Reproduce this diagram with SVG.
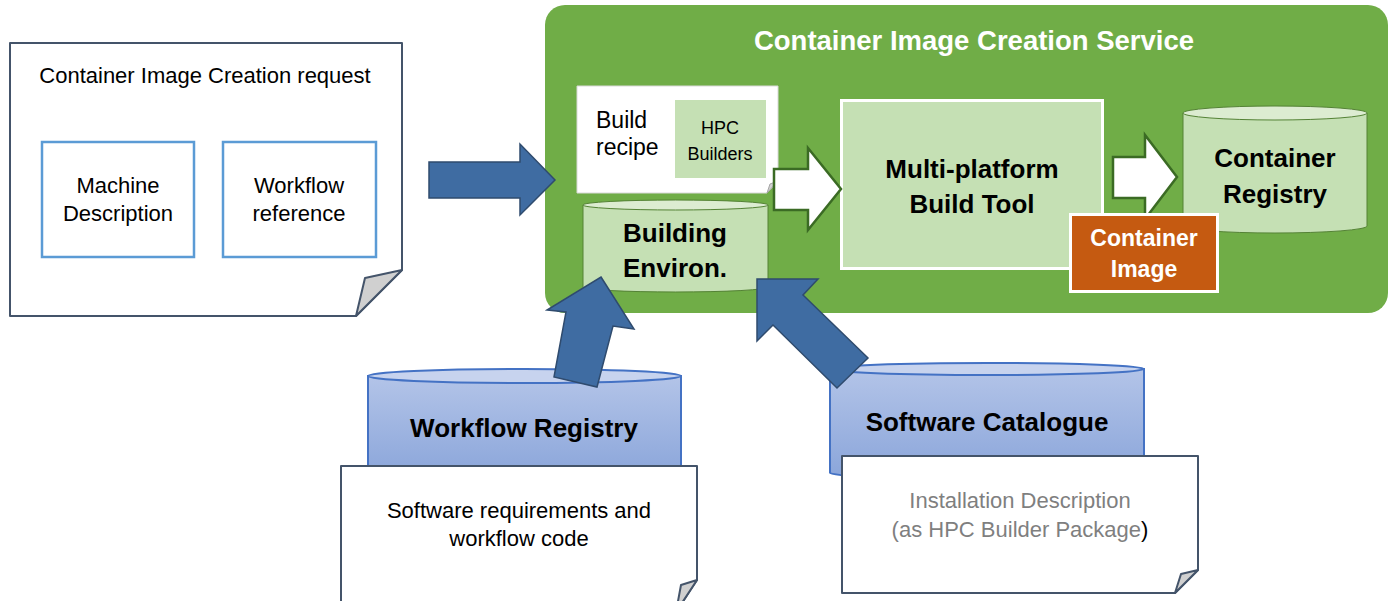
<svg xmlns="http://www.w3.org/2000/svg" width="1389" height="601" viewBox="0 0 1389 601">
<defs>
<linearGradient id="blueCyl" x1="0" y1="0" x2="0" y2="1">
<stop offset="0" stop-color="#b3c4e8"/>
<stop offset="1" stop-color="#8aa5da"/>
</linearGradient>
</defs>
<style>
.doc{fill:#fff;stroke:#44546a;stroke-width:2;stroke-linejoin:round}
.fold{fill:#d0d0d0;stroke:#44546a;stroke-width:2;stroke-linejoin:round}
.inbox{fill:#fff;stroke:#5b9bd5;stroke-width:2.5}
.t{font-family:"Liberation Sans",Arial,sans-serif;font-size:22px;fill:#000;text-anchor:middle}
.b{font-family:"Liberation Sans",Arial,sans-serif;font-weight:bold;font-size:26px;fill:#000;text-anchor:middle}
.gcyl{fill:#c5e0b4;stroke:#548235;stroke-width:1}
.gtop{fill:#dcecd1;stroke:#548235;stroke-width:1}
.bcyl{fill:url(#blueCyl);stroke:#4472c4;stroke-width:2}
.btop{fill:#c7d3ee;stroke:#4472c4;stroke-width:2}
.barrow{fill:#3f6ca2;stroke:#2f4b6e;stroke-width:1.5;stroke-linejoin:miter}
.warrow{fill:#fff;stroke:#3b6b24;stroke-width:2.5;stroke-linejoin:miter}
</style>

<g id="request">
<path class="doc" d="M10,43 H402 V270 L356,316 H10 Z"/>
<path class="fold" d="M402,270 L365,278 L356,316 Z"/>
<text class="t" x="205" y="83">Container Image Creation request</text>
<g id="machine">
<rect class="inbox" x="42" y="142" width="152" height="115"/>
<text class="t" x="118" y="193">Machine</text>
<text class="t" x="118" y="221">Description</text>
</g>
<g id="workflowref">
<rect class="inbox" x="223" y="142" width="153" height="115"/>
<text class="t" x="299" y="193">Workflow</text>
<text class="t" x="299" y="221">reference</text>
</g>
</g>

<g id="service">
<rect x="545" y="5" width="843" height="308" rx="20" ry="20" fill="#70ad47"/>
<text x="974" y="50" font-family="Liberation Sans, Arial, sans-serif" font-weight="bold" font-size="27.5" fill="#fff" text-anchor="middle">Container Image Creation Service</text>
</g>

<g id="recipe">
<path d="M577,86 H778 V181 L767,193 H577 Z" fill="#fff" stroke="#d9d9d9" stroke-width="1"/>
<path d="M778,181 L770,184 L767,193 Z" fill="#d0d0d0" stroke="#a5a5a5" stroke-width="1"/>
<text x="596" y="128" font-family="Liberation Sans, Arial, sans-serif" font-size="23" fill="#000">Build</text>
<text x="596" y="155" font-family="Liberation Sans, Arial, sans-serif" font-size="23" fill="#000">recipe</text>
<g id="hpcbuilders">
<rect x="675" y="100" width="91" height="78" fill="#c5e0b4"/>
<text x="720" y="134" font-family="Liberation Sans, Arial, sans-serif" font-size="18" fill="#000" text-anchor="middle">HPC</text>
<text x="720" y="160" font-family="Liberation Sans, Arial, sans-serif" font-size="18" fill="#000" text-anchor="middle">Builders</text>
</g>
</g>

<g id="buildenv">
<path class="gcyl" d="M583,205 V287 A92.5,5 0 0 0 768,287 V205 Z"/>
<ellipse class="gtop" cx="675.5" cy="205" rx="92.5" ry="5"/>
<text class="b" x="675" y="242">Building</text>
<text class="b" x="675" y="277">Environ.</text>
</g>

<g id="buildtool">
<rect x="841.5" y="100.5" width="261" height="168" fill="#c5e0b4" stroke="#fff" stroke-width="3"/>
<text class="b" x="972" y="178">Multi-platform</text>
<text class="b" x="972" y="213">Build Tool</text>
</g>

<g id="registry">
<path class="gcyl" d="M1183,113 V226 A92,7 0 0 0 1367,226 V113 Z"/>
<ellipse class="gtop" cx="1275" cy="113" rx="92" ry="7"/>
<text class="b" x="1275" y="167">Container</text>
<text class="b" x="1275" y="203">Registry</text>
</g>

<g id="wfregistry">
<path class="bcyl" d="M368,376 V472 A156.5,7 0 0 0 681,472 V376 Z"/>
<ellipse class="btop" cx="524.5" cy="376" rx="156.5" ry="7"/>
<text class="b" x="524" y="437">Workflow Registry</text>
</g>

<g id="catalogue">
<path class="bcyl" d="M830,369 V473 A157,6 0 0 0 1144,473 V369 Z"/>
<ellipse class="btop" cx="987" cy="369" rx="157" ry="6"/>
<text class="b" x="987" y="431">Software Catalogue</text>
</g>

<g id="wfdoc">
<path class="doc" d="M341,466 H697 V580 L676,612 H341 Z"/>
<path class="fold" d="M697,580 L681,585 L676,612 Z"/>
<text class="t" x="519" y="518">Software requirements and</text>
<text class="t" x="519" y="546">workflow code</text>
</g>

<g id="catdoc">
<path class="doc" d="M842,456 H1198 V570 L1175,593 H842 Z"/>
<path class="fold" d="M1198,570 L1181,574 L1175,593 Z"/>
<text class="t" x="1020" y="508" fill="#7f7f7f" style="fill:#7f7f7f">Installation Description</text>
<text class="t" x="1020" y="537"><tspan style="fill:#7f7f7f">(as HPC Builder Package</tspan>)</text>
</g>

<g id="connectors">
<polygon class="barrow" points="429,162 520,162 520,144 555,180 520,215 520,198 429,198"/>
<polygon class="warrow" points="774,169 808,169 808,148 841,189 808,230 808,210 774,210"/>
<polygon class="warrow" points="1113,157 1145,157 1145,135 1177,177 1145,219 1145,198 1113,198"/>
<polygon class="barrow" points="601,277 634,329 613,326 597,387 554,377 566,312 547,310"/>
<polygon class="barrow" points="757,279 818,279 803,295 868,358 837,388 773,325 757,341"/>
</g>

<g id="containerimage">
<rect x="1070.5" y="214.5" width="147" height="77" fill="#c55a11" stroke="#fff" stroke-width="3"/>
<text x="1144" y="246" font-family="Liberation Sans, Arial, sans-serif" font-weight="bold" font-size="23" fill="#fff" text-anchor="middle">Container</text>
<text x="1144" y="277" font-family="Liberation Sans, Arial, sans-serif" font-weight="bold" font-size="23" fill="#fff" text-anchor="middle">Image</text>
</g>
</svg>
